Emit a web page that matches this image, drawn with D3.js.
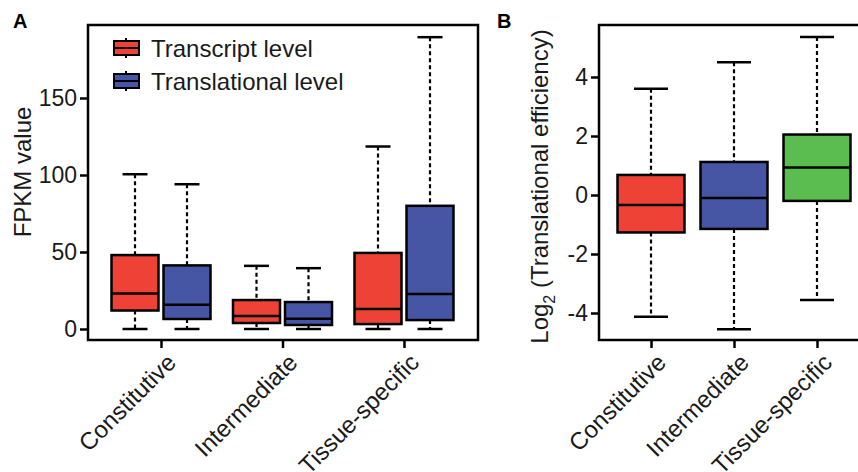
<!DOCTYPE html>
<html>
<head>
<meta charset="utf-8">
<script src="https://cdn.jsdelivr.net/npm/d3@7"></script>
<style>
  body { margin: 0; background: #fff; }
  svg { font-family: "Liberation Sans", Arial, sans-serif; }
</style>
</head>
<body>
<div id="chart"></div>
<script>
// Panel A data (FPKM value box stats: min, q1, median, q3, max)
const categories = ['Constitutive', 'Intermediate', 'Tissue-specific'];
const seriesNames = ['Transcript level', 'Translational level'];
const transcriptStats = [
    [0, 12, 23, 48, 100.5],
    [0, 3.9, 8.4, 18.8, 41],
    [0, 3.2, 13, 49.4, 118.5]
];
const translationalStats = [
    [0, 6.5, 15.8, 41.3, 94],
    [0, 2.6, 6.6, 17.5, 39.5],
    [0, 5.8, 22.7, 80, 189.5]
];
const ticksA = [0, 50, 100, 150];

// Panel B data (log2 translational efficiency)
const efficiencyStats = [
    [-4.13, -1.27, -0.34, 0.68, 3.6],
    [-4.55, -1.15, -0.1, 1.12, 4.5],
    [-3.56, -0.2, 0.93, 2.05, 5.36]
];
const ticksB = [-4, -2, 0, 2, 4];

const colors = ['#EE4236', '#4656A4', '#5BBD4F'];
const textColor = '#1a1a1a';

const svg = d3.select('#chart')
    .append('svg')
    .attr('width', 858)
    .attr('height', 472);

// Draw one box with dashed whiskers
function drawBox(g, cx, stats, y, boxW, capW, fill) {
    const [mn, q1, md, q3, mx] = stats;
    g.append('line')
        .attr('x1', cx).attr('x2', cx)
        .attr('y1', y(mx)).attr('y2', y(q3))
        .attr('stroke', '#000').attr('stroke-width', 2.2)
        .attr('stroke-dasharray', '4,3');
    g.append('line')
        .attr('x1', cx).attr('x2', cx)
        .attr('y1', y(q1)).attr('y2', y(mn))
        .attr('stroke', '#000').attr('stroke-width', 2.2)
        .attr('stroke-dasharray', '4,3');
    [mn, mx].forEach(v => {
        g.append('line')
            .attr('x1', cx - capW / 2).attr('x2', cx + capW / 2)
            .attr('y1', y(v)).attr('y2', y(v))
            .attr('stroke', '#000').attr('stroke-width', 2.5);
    });
    g.append('rect')
        .attr('x', cx - boxW / 2)
        .attr('y', y(q3))
        .attr('width', boxW)
        .attr('height', y(q1) - y(q3))
        .attr('fill', fill)
        .attr('stroke', '#000')
        .attr('stroke-width', 2.5);
    g.append('line')
        .attr('x1', cx - boxW / 2).attr('x2', cx + boxW / 2)
        .attr('y1', y(md)).attr('y2', y(md))
        .attr('stroke', '#000').attr('stroke-width', 2.5);
}

function styleAxis(g) {
    g.select('.domain').remove();
    g.selectAll('.tick line').attr('stroke', '#000').attr('stroke-width', 2.5);
    g.selectAll('.tick text')
        .attr('fill', textColor)
        .style('font-size', '23px');
}

function rotateLabels(g) {
    g.selectAll('.tick text')
        .style('font-size', '24px')
        .attr('text-anchor', 'end')
        .attr('dy', null)
        .attr('y', 0)
        .attr('transform', 'translate(16,24) rotate(-45)');
}

// ---------- Panel A ----------
const A = { left: 88, right: 478, top: 25, bottom: 340 };
const gA = svg.append('g');

const xA = d3.scalePoint().domain(categories).range([161, 404]);
const yA = d3.scaleLinear().domain([0, 150]).range([329, 98]);
const offset = 26;

categories.forEach((c, i) => {
    drawBox(gA, xA(c) - offset, transcriptStats[i], yA, 47, 25, colors[0]);
    drawBox(gA, xA(c) + offset, translationalStats[i], yA, 47, 25, colors[1]);
});

gA.append('rect')
    .attr('x', A.left).attr('y', A.top)
    .attr('width', A.right - A.left).attr('height', A.bottom - A.top)
    .attr('fill', 'none').attr('stroke', '#000').attr('stroke-width', 2.5);

gA.append('g')
    .attr('transform', `translate(${A.left},0)`)
    .call(d3.axisLeft(yA).tickValues(ticksA).tickSize(8).tickPadding(3))
    .call(styleAxis);

gA.append('g')
    .attr('transform', `translate(0,${A.bottom})`)
    .call(d3.axisBottom(xA).tickSize(8))
    .call(styleAxis)
    .call(rotateLabels);

gA.append('text')
    .attr('transform', `translate(31,172) rotate(-90)`)
    .attr('text-anchor', 'middle')
    .attr('fill', textColor)
    .style('font-size', '24px')
    .text('FPKM value');

gA.append('text')
    .attr('x', 13).attr('y', 28)
    .style('font-size', '20px').style('font-weight', 'bold')
    .text('A');

// legend
seriesNames.forEach((name, i) => {
    const ly = 48 + i * 33;
    const lg = gA.append('g');
    lg.append('line')
        .attr('x1', 126).attr('x2', 126)
        .attr('y1', ly - 10).attr('y2', ly + 10)
        .attr('stroke', '#000').attr('stroke-width', 2);
    lg.append('rect')
        .attr('x', 114).attr('y', ly - 7)
        .attr('width', 25).attr('height', 14)
        .attr('fill', colors[i]).attr('stroke', '#000').attr('stroke-width', 2);
    lg.append('line')
        .attr('x1', 114).attr('x2', 139)
        .attr('y1', ly).attr('y2', ly)
        .attr('stroke', '#000').attr('stroke-width', 2);
    lg.append('text')
        .attr('x', 151).attr('y', ly + 9)
        .attr('fill', textColor)
        .style('font-size', '24px')
        .text(name);
});

// ---------- Panel B ----------
const B = { left: 599, right: 900, top: 25, bottom: 340 };
const gB = svg.append('g');

const xB = d3.scalePoint().domain(categories).range([651, 817]);
const yB = d3.scaleLinear().domain([-4, 4]).range([313, 77]);

categories.forEach((c, i) => {
    drawBox(gB, xB(c), efficiencyStats[i], yB, 67, 34, colors[i]);
});

gB.append('rect')
    .attr('x', B.left).attr('y', B.top)
    .attr('width', B.right - B.left).attr('height', B.bottom - B.top)
    .attr('fill', 'none').attr('stroke', '#000').attr('stroke-width', 2.5);

gB.append('g')
    .attr('transform', `translate(${B.left},0)`)
    .call(d3.axisLeft(yB).tickValues(ticksB).tickSize(8).tickPadding(3)
        .tickFormat(d => String(d)))
    .call(styleAxis);

gB.append('g')
    .attr('transform', `translate(0,${B.bottom})`)
    .call(d3.axisBottom(xB).tickSize(8))
    .call(styleAxis)
    .call(rotateLabels);

const titleB = gB.append('text')
    .attr('transform', `translate(548,${(B.top + B.bottom) / 2 + 4}) rotate(-90)`)
    .attr('text-anchor', 'middle')
    .attr('fill', textColor)
    .style('font-size', '24px');
titleB.append('tspan').text('Log');
titleB.append('tspan').attr('dy', 7).style('font-size', '16px').text('2');
titleB.append('tspan').attr('dy', -7).text(' (Translational efficiency)');

gB.append('text')
    .attr('x', 497).attr('y', 28)
    .style('font-size', '20px').style('font-weight', 'bold')
    .text('B');
</script>
</body>
</html>
